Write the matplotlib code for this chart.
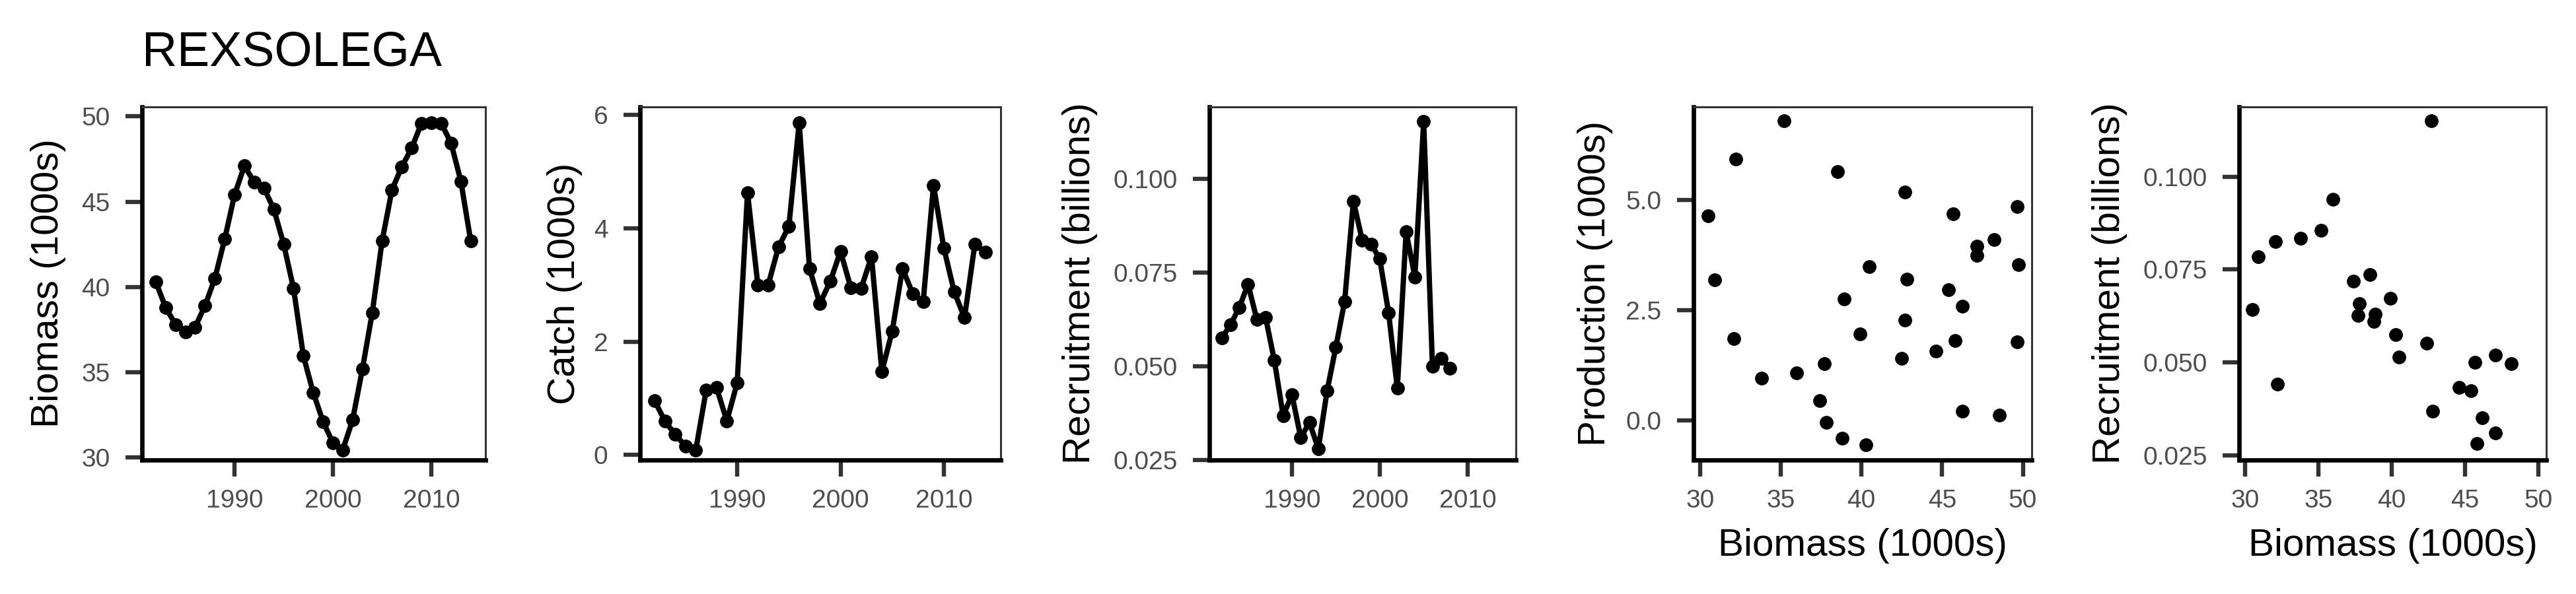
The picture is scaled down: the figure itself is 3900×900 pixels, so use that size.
import matplotlib
matplotlib.use("Agg")
import matplotlib.pyplot as plt
from matplotlib.ticker import FormatStrFormatter

plt.rcParams['font.family'] = ['Liberation Sans', 'DejaVu Sans']

title = "REXSOLEGA"

years = list(range(1982, 2015))
biomass = [40.3, 38.8, 37.8, 37.35, 37.65, 38.9, 40.5, 42.8, 45.4, 47.1,
           46.15, 45.8, 44.55, 42.5, 39.9, 35.95, 33.8, 32.1, 30.85, 30.45,
           32.2, 35.2, 38.5, 42.7, 45.7, 47.05, 48.15, 49.6, 49.65, 49.6,
           48.45, 46.2, 42.7]
catch = [0.96, 0.60, 0.36, 0.16, 0.09, 1.14, 1.19, 0.60, 1.27, 4.63,
         3.00, 3.00, 3.67, 4.03, 5.86, 3.29, 2.67, 3.06, 3.59, 2.95,
         2.94, 3.50, 1.47, 2.18, 3.29, 2.84, 2.70, 4.76, 3.65, 2.88,
         2.42, 3.72, 3.58]

rec_years = list(range(1982, 2009))
recruit = [0.0575, 0.0610, 0.0657, 0.0718, 0.0625, 0.0630, 0.0515, 0.0368,
           0.0424, 0.0310, 0.0350, 0.0280, 0.0434, 0.0551, 0.0673, 0.0940,
           0.0836, 0.0826, 0.0786, 0.0643, 0.0441, 0.0858, 0.0738, 0.1152,
           0.0500, 0.0520, 0.0494]

# production vs biomass
prod_b = [30.5, 30.9, 32.2, 32.1, 33.8, 35.2, 36.0, 37.7, 37.4, 37.84, 38.5,
          38.94, 38.8, 39.9, 40.3, 40.5, 42.7, 42.8, 42.7, 42.5, 44.6, 45.4,
          45.7, 45.8, 46.24, 46.24, 47.14, 47.14, 48.2, 48.54, 49.64, 49.74, 49.64]
prod = [4.64, 3.19, 5.93, 1.86, 0.97, 6.79, 1.09, 1.30, 0.46, -0.04, 5.65,
        2.76, -0.40, 1.97, -0.54, 3.49, 5.18, 3.20, 2.28, 1.42, 1.57, 2.97,
        4.69, 1.81, 2.60, 0.21, 3.95, 3.74, 4.10, 0.13, 4.85, 3.54, 1.78]

# recruitment vs biomass
rec_b = [30.49, 30.9, 32.1, 32.2, 33.8, 35.2, 36.0, 37.4, 38.5, 37.8, 37.7,
         38.9, 38.8, 39.9, 40.3, 40.5, 42.4, 42.7, 42.8, 44.6, 45.4, 45.7,
         45.8, 46.2, 47.1, 47.1, 48.15]
rec_s = [0.0642, 0.0785, 0.0825, 0.0442, 0.0834, 0.0856, 0.0939, 0.0718,
         0.0736, 0.0658, 0.0626, 0.0630, 0.0611, 0.0672, 0.0574, 0.0514,
         0.0551, 0.1151, 0.0368, 0.0433, 0.0424, 0.0500, 0.0281, 0.0351,
         0.0519, 0.0310, 0.0496]

W, H = 3900, 900
fig = plt.figure(figsize=(39, 9), dpi=100)

bottom_px, top_px = 697, 162
panels = [(215, 735), (969, 1515), (1831, 2295), (2564, 3076), (3390, 3855)]
axes = []
for l, r in panels:
    ax = fig.add_axes([l / W, 1 - bottom_px / H, (r - l) / W, (bottom_px - top_px) / H])
    axes.append(ax)

TICK = 28
LAB = 42

def style(ax):
    for s in ['top', 'right']:
        ax.spines[s].set_linewidth(2.2)
        ax.spines[s].set_color('#333333')
    for s in ['left', 'bottom']:
        ax.spines[s].set_linewidth(4.8)
        ax.spines[s].set_color('black')
        ax.spines[s].set_capstyle('projecting')
    ax.tick_params(direction='out', length=18, width=4.6, color='#333333',
                   labelsize=TICK, labelcolor='#4D4D4D')
    ax.tick_params(axis='y', pad=17)
    ax.tick_params(axis='x', pad=14)

lw, ms = 5.8, 14

ax = axes[0]
ax.plot(years, biomass, color='black', lw=lw, marker='o', ms=ms)
ax.set_ylim(29.85, 50.56)
ax.set_yticks([30, 35, 40, 45, 50])
ax.set_ylabel("Biomass (1000s)", fontsize=LAB)
ax.yaxis.set_label_coords(-0.221, 0.5)

ax = axes[1]
ax.plot(years, catch, color='black', lw=lw, marker='o', ms=ms)
ax.set_ylim(-0.09, 6.14)
ax.set_yticks([0, 2, 4, 6])
ax.set_ylabel("Catch (1000s)", fontsize=LAB)
ax.yaxis.set_label_coords(-0.159, 0.5)

ax = axes[2]
ax.plot(rec_years, recruit, color='black', lw=lw, marker='o', ms=ms)
ax.set_ylim(0.0251, 0.1191)
ax.set_yticks([0.025, 0.050, 0.075, 0.100])
ax.yaxis.set_major_formatter(FormatStrFormatter('%.3f'))
ax.set_ylabel("Recruitment (billions)", fontsize=LAB)
ax.yaxis.set_label_coords(-0.364, 0.5)

for ax in axes[:3]:
    ax.set_xlim(1980.6, 2015.5)
    ax.set_xticks([1990, 2000, 2010])

ax = axes[3]
ax.plot(prod_b, prod, 'o', color='black', ms=ms)
ax.set_ylim(-0.89, 7.11)
ax.set_yticks([0.0, 2.5, 5.0])
ax.yaxis.set_major_formatter(FormatStrFormatter('%.1f'))
ax.set_ylabel("Production (1000s)", fontsize=LAB)
ax.yaxis.set_label_coords(-0.238, 0.5)

ax = axes[4]
ax.plot(rec_b, rec_s, 'o', color='black', ms=ms)
ax.set_ylim(0.0237, 0.1188)
ax.set_yticks([0.025, 0.050, 0.075, 0.100])
ax.yaxis.set_major_formatter(FormatStrFormatter('%.3f'))
ax.set_ylabel("Recruitment (billions)", fontsize=LAB)
ax.yaxis.set_label_coords(-0.363, 0.5)

for ax in axes[3:]:
    ax.set_xlim(29.6, 50.55)
    ax.set_xticks([30, 35, 40, 45, 50])
    ax.set_xlabel("Biomass (1000s)", fontsize=LAB)
    ax.xaxis.set_label_coords(0.5, -0.1925)

for ax in axes:
    style(ax)

fig.text(215 / W, 1 - 100 / H, title, fontsize=53, ha='left', va='baseline')

fig.savefig("out.png", dpi=100)
